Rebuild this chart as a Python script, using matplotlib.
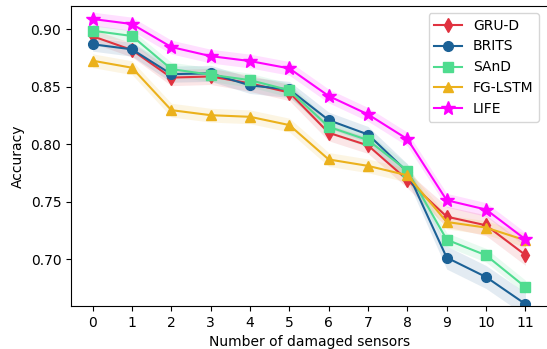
import matplotlib
matplotlib.use("Agg")
import matplotlib.pyplot as plt
import numpy as np

n_damaged = list(range(12))

gru_d = [0.894, 0.882, 0.858, 0.859, 0.853, 0.845, 0.810, 0.799, 0.769, 0.737, 0.7295, 0.7037]
brits = [0.887, 0.8826, 0.861, 0.8617, 0.8512, 0.8477, 0.821, 0.8085, 0.776, 0.7014, 0.6845, 0.661]
sand = [0.8988, 0.8942, 0.8654, 0.8605, 0.8558, 0.847, 0.8152, 0.8036, 0.777, 0.717, 0.7034, 0.6758]
fg_lstm = [0.8727, 0.8666, 0.8297, 0.8253, 0.8239, 0.8167, 0.7868, 0.7812, 0.773, 0.7324, 0.7275, 0.7165]
life = [0.909, 0.9046, 0.8846, 0.8767, 0.8724, 0.866, 0.842, 0.826, 0.8045, 0.7513, 0.7432, 0.7173]

# spread shown as shaded band around each curve
gru_d_std = [0.006, 0.006, 0.007, 0.007, 0.007, 0.007, 0.007, 0.007, 0.007, 0.009, 0.009, 0.009]
brits_std = [0.006, 0.006, 0.007, 0.007, 0.007, 0.007, 0.007, 0.007, 0.007, 0.010, 0.010, 0.010]
sand_std = [0.005, 0.005, 0.006, 0.006, 0.006, 0.006, 0.006, 0.006, 0.006, 0.006, 0.006, 0.006]
fg_lstm_std = [0.006, 0.006, 0.006, 0.006, 0.006, 0.006, 0.006, 0.006, 0.006, 0.006, 0.006, 0.006]
life_std = [0.006, 0.006, 0.006, 0.006, 0.006, 0.006, 0.006, 0.006, 0.006, 0.006, 0.006, 0.006]

series = [
    ("GRU-D", gru_d, gru_d_std, "#e0323f", "d"),
    ("BRITS", brits, brits_std, "#1b6196", "o"),
    ("SAnD", sand, sand_std, "#4fdc8f", "s"),
    ("FG-LSTM", fg_lstm, fg_lstm_std, "#ebb11c", "^"),
    ("LIFE", life, life_std, "#ff00ff", "*"),
]

fig = plt.figure(figsize=(5.47, 3.49), dpi=100)
# right spine falls just outside the image, as in the original
ax = fig.add_axes([71 / 547, 1 - 306 / 349, 478 / 547, 300 / 349])

x = np.array(n_damaged)
for name, vals, std, color, marker in series:
    vals = np.array(vals)
    std = np.array(std)
    ax.fill_between(x, vals - std, vals + std, color=color, alpha=0.12, linewidth=0)
    ms = 10 if marker == "*" else 7
    ax.plot(x, vals, color=color, marker=marker, markersize=ms, linewidth=1.5, label=name)

ax.set_xticks(n_damaged)
ax.set_xlim(-0.55, 11.6)
ax.set_ylim(0.6593, 0.9203)
ax.set_yticks([0.70, 0.75, 0.80, 0.85, 0.90])
ax.set_yticklabels(["0.70", "0.75", "0.80", "0.85", "0.90"])
ax.set_xlabel("Number of damaged sensors")
ax.set_ylabel("Accuracy")
ax.legend(loc="upper right", fontsize=10, bbox_to_anchor=(0.994, 1.0))

fig.savefig("out.png", dpi=100)
